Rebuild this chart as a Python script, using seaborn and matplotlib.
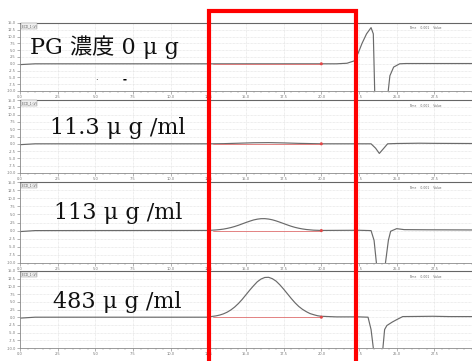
import matplotlib
matplotlib.use("Agg")
import matplotlib.pyplot as plt
import matplotlib.patches as mpatches
import seaborn as sns
import numpy as np

# ---------------- data ----------------
labels = ["PG 濃度 0 μ g", "11.3 μ g /ml", "113 μ g /ml", "483 μ g /ml"]

t_p1 = [0.0, 1.0, 12.5, 20.0, 21.0, 21.7, 22.2, 22.45, 22.7, 23.0, 23.3, 23.45, 23.55,
        24.4, 24.55, 24.8, 25.2, 25.6, 30.0]
v_p1 = [-0.3, 0.0, 0.0, 0.0, 0.0, 0.2, 1.1, 4.0, 7.5, 11.0, 13.3, 11.0, -12.0,
        -12.0, -4.4, -1.2, 0.0, 0.1, 0.1]

t_p2 = [0.0, 1.0, 12.5, 13.5, 14.5, 15.5, 16.5, 17.5, 18.5, 19.5, 20.0, 22.5, 23.3,
        23.6, 23.85, 24.1, 24.4, 25.0, 26.5, 27.5, 30.0]
v_p2 = [-0.3, 0.0, 0.0, 0.05, 0.2, 0.35, 0.4, 0.3, 0.15, 0.05, 0.0, 0.0, 0.0,
        -1.5, -3.3, -1.8, 0.0, 0.1, 0.2, 0.15, 0.1]

t_p3 = [0.0, 1.0, 12.5, 12.75, 13.0, 13.25, 13.5, 13.75, 14.0, 14.25, 14.5, 14.75,
        15.0, 15.25, 15.5, 15.75, 16.0, 16.25, 16.5, 16.75, 17.0, 17.25, 17.5,
        17.75, 18.0, 18.25, 18.5, 18.75, 19.0, 19.25, 19.5, 19.75, 20.0,
        22.5, 23.3, 23.5, 23.7, 24.2, 24.45, 24.6, 25.0, 25.5, 27.0, 30.0]
v_p3 = [-0.3, 0.0, 0.05, 0.12, 0.2, 0.31, 0.46, 0.68, 0.94, 1.27, 1.65, 2.08,
        2.51, 2.91, 3.28, 3.53, 3.68, 3.69, 3.56, 3.33, 2.99, 2.59, 2.17,
        1.74, 1.34, 1.0, 0.73, 0.51, 0.34, 0.23, 0.13, 0.09, 0.05,
        0.1, 0.0, -3.0, -12.0, -12.0, -3.0, -0.2, 0.6, 0.3, 0.25, 0.2]

t_p4 = [0.0, 1.0, 12.5, 12.75, 13.0, 13.25, 13.5, 13.75, 14.0, 14.25, 14.5, 14.75,
        15.0, 15.25, 15.5, 15.75, 16.0, 16.25, 16.5, 16.75, 17.0, 17.25, 17.5,
        17.75, 18.0, 18.25, 18.5, 18.75, 19.0, 19.25, 19.5, 19.75, 20.0,
        21.0, 22.5, 23.1, 23.3, 23.5, 24.05, 24.2, 24.35, 24.7, 25.0, 25.4,
        26.5, 27.4, 28.5, 30.0]
v_p4 = [-0.3, 0.0, 0.0, 0.25, 0.42, 0.69, 1.08, 1.63, 2.37, 3.31, 4.46, 5.8,
        7.3, 8.8, 10.2, 11.5, 12.4, 12.9, 12.95, 12.5, 11.7, 10.5, 9.1,
        7.6, 6.1, 4.7, 3.5, 2.55, 1.8, 1.18, 0.8, 0.47, 0.3,
        0.1, 0.1, 0.0, -4.0, -12.0, -12.0, -4.0, -2.7, -1.6, -0.8, 0.2,
        0.25, 0.3, 0.2, 0.2]

times = [t_p1, t_p2, t_p3, t_p4]
values = [v_p1, v_p2, v_p3, v_p4]

baseline_start = 12.8
baseline_end = 20.0

x_ticks = [0.0, 2.5, 5.0, 7.5, 10.0, 12.5, 15.0, 17.5, 20.0, 22.5, 25.0, 27.5]
x_tick_labels = ["0.0", "2.5", "5.0", "7.5", "10.0", "12.5", "15.0", "17.5",
                 "20.0", "22.5", "25.0", "27.5"]
y_ticks = [-10.0, -7.5, -5.0, -2.5, 0.0, 2.5, 5.0, 7.5, 10.0, 12.5, 15.0]
y_tick_labels = ["-10.0", "-7.5", "-5.0", "-2.5", "0.0", "2.5", "5.0", "7.5",
                 "10.0", "12.5", "15.0"]

# ---------------- figure ----------------
sns.set_theme(style="white")
W, H = 472, 361
fig = plt.figure(figsize=(W / 100, H / 100), dpi=100)
fig.patch.set_facecolor("white")

panels_px = [(23, 91), (100, 173), (182, 263), (271, 348)]
left_px = 20
text_pos = [(30, 47), (50, 128), (54, 213), (53, 302)]

for i, (top, bot) in enumerate(panels_px):
    ax = fig.add_axes([left_px / W, 1 - bot / H, (W - left_px) / W, (bot - top) / H])
    ax.set_facecolor("white")
    sns.lineplot(x=times[i], y=values[i], ax=ax, color="#6a6a6a", linewidth=0.85,
                 sort=False, estimator=None)
    sns.lineplot(x=[baseline_start, baseline_end], y=[0, 0], ax=ax,
                 color="#e07070", linewidth=0.6, estimator=None)
    sns.scatterplot(x=[baseline_end], y=[0], ax=ax, color="#e04848", s=5,
                    edgecolor="none", zorder=5)
    ax.set_xlim(0, 30)
    ax.set_ylim(-10, 15)
    ax.set_xticks(x_ticks)
    ax.set_xticklabels(x_tick_labels)
    ax.set_yticks(y_ticks)
    ax.set_yticklabels(y_tick_labels)
    ax.set_xticks(np.arange(0, 30.01, 0.5), minor=True)
    ax.tick_params(axis="both", which="major", labelsize=2.6, colors="#777777",
                   length=2, width=0.4, pad=1, direction="out")
    ax.tick_params(axis="x", which="minor", length=1.2, width=0.3, colors="#888888",
                   direction="out", bottom=True)
    ax.tick_params(axis="x", bottom=True)
    ax.tick_params(axis="y", left=True)
    ax.grid(True, which="major", color="#dddddd", linestyle=(0, (1, 1)), linewidth=0.5)
    ax.set_xlabel("")
    ax.set_ylabel("")
    for s in ax.spines.values():
        s.set_color("#8a8a8a")
        s.set_linewidth(0.6)
    ax.spines["top"].set_color("#666666")
    ax.spines["top"].set_linewidth(0.8)
    ax.text(0.004, 0.985, "ECD_1 (V)", transform=ax.transAxes, fontsize=2.2,
            color="#555555", va="top", ha="left",
            bbox=dict(boxstyle="square,pad=0.2", fc="#f0f0f0", ec="#888888", lw=0.3))
    ax.text(0.86, 0.95, "Time    0.001    Value", transform=ax.transAxes,
            fontsize=2.2, color="#666666", va="top", ha="left")
    tx, ty = text_pos[i]
    fig.text(tx / W, 1 - ty / H, labels[i], fontsize=16, ha="left", va="center",
             color="#111111", family=["DejaVu Serif", "Noto Sans CJK JP"])

fig.text(96 / W, 1 - 81 / H, "·", fontsize=6, ha="center", va="center", color="black")
fig.text(125 / W, 1 - 80 / H, "▬", fontsize=3, ha="center", va="center", color="black")

rect = mpatches.Rectangle((209 / W, -0.05), (356 - 209) / W, 1.05 - 11 / H,
                          transform=fig.transFigure, fill=False, edgecolor="#ff0000",
                          linewidth=3.0, zorder=100, clip_on=False)
fig.patches.append(rect)

fig.savefig("out.png", dpi=100, facecolor="white")
